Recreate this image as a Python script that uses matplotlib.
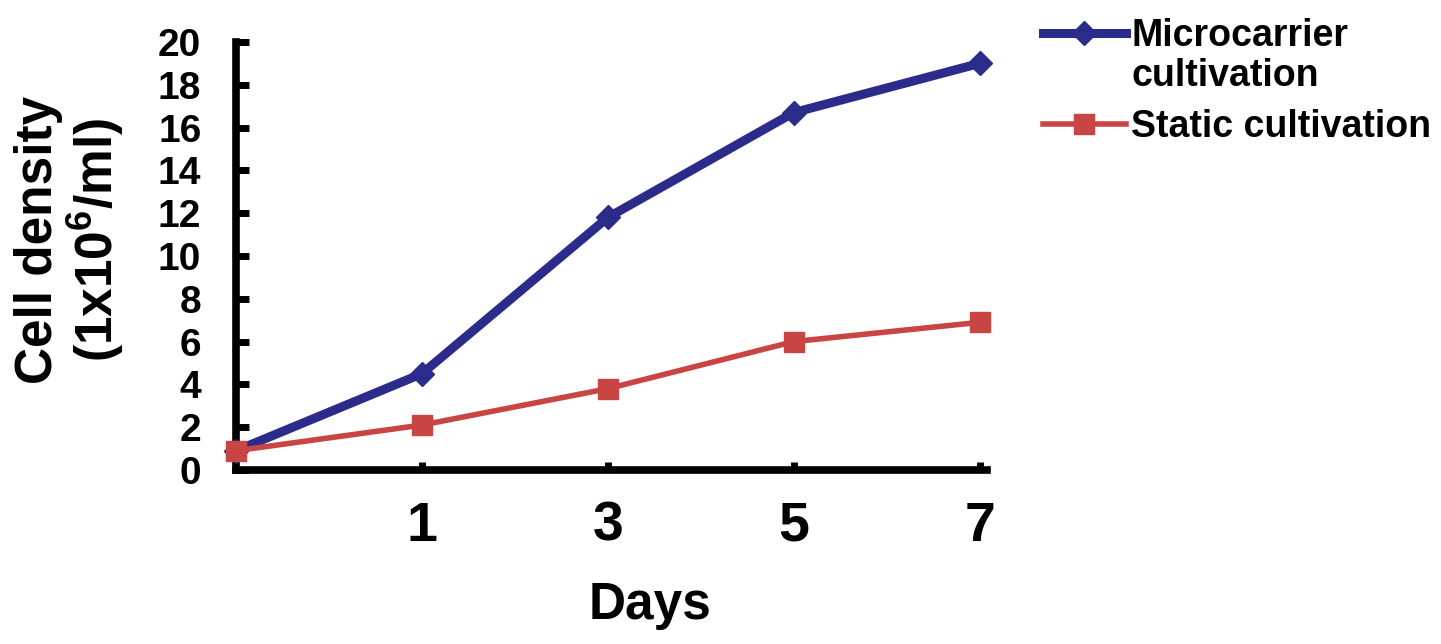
import matplotlib
matplotlib.use("Agg")
from matplotlib import pyplot as plt
from matplotlib.transforms import IdentityTransform
import numpy as np

# values
day_labels = ["", "1", "3", "5", "7"]
microcarrier = [0.9, 4.5, 11.8, 16.7, 19.0]
static = [0.9, 2.1, 3.8, 6.0, 6.9]
y_ticks = list(range(0, 21, 2))

blue = "#2b2b8c"
red = "#c94544"

plt.rcParams['font.family'] = ['Liberation Sans', 'DejaVu Sans']
plt.rcParams['font.weight'] = 'bold'
plt.rcParams['mathtext.fontset'] = 'custom'
plt.rcParams['mathtext.bf'] = 'Liberation Sans:bold'
plt.rcParams['mathtext.rm'] = 'Liberation Sans:bold'

fig = plt.figure(figsize=(14.41, 6.44), dpi=100)
ax = fig.add_axes([0.1638, 0.2702, 0.5212, 0.6646])

x = np.arange(len(day_labels))
ax.plot(x, microcarrier, color=blue, lw=6.5, marker='D', ms=12,
        label="Microcarrier", clip_on=False, zorder=3)
ax.plot(x, static, color=red, lw=4, marker='s', ms=14, mew=1,
        label="Static cultivation", clip_on=False, zorder=4)

ax.set_xlim(0, 4.04)
ax.set_ylim(0, 20)
for side in ['top', 'right']:
    ax.spines[side].set_visible(False)
for side in ['left', 'bottom']:
    ax.spines[side].set_linewidth(5.5)
    ax.spines[side].set_capstyle('projecting')

ax.set_xticks(x[1:])
ax.set_xticklabels(day_labels[1:])
ax.set_yticks(y_ticks)
ax.set_yticklabels([str(v) for v in y_ticks])
ax.tick_params(axis='x', direction='in', length=6, width=5, pad=22, labelsize=40)
ax.tick_params(axis='y', direction='in', length=9, width=5, pad=25, labelsize=28)

ax.set_xlabel("Days", fontsize=37, fontweight='bold')
ax.xaxis.set_label_coords(0.551, -0.26)

fig.text(70 / 1441, 1 - 240 / 644, "Cell density\n(1x10$^{\\mathbf{6}}$/ml)",
         rotation=90, ha='center', va='center', multialignment='center',
         fontsize=37, fontweight='bold', linespacing=1.05)

leg = ax.legend(loc='upper left', bbox_to_anchor=(1043 / 1441, 1 - 18 / 644),
                bbox_transform=fig.transFigure, frameon=False, fontsize=27,
                handlelength=2.2, handletextpad=0.15, labelspacing=1.47,
                borderpad=0, borderaxespad=0)

# second line of the first legend label
fig.canvas.draw()
bb = leg.get_texts()[0].get_window_extent()
fig.text(bb.x0, bb.y1 - 40, "cultivation", fontsize=27, fontweight='bold',
         ha='left', va='top', transform=IdentityTransform())

fig.savefig("out.png", dpi=100)
